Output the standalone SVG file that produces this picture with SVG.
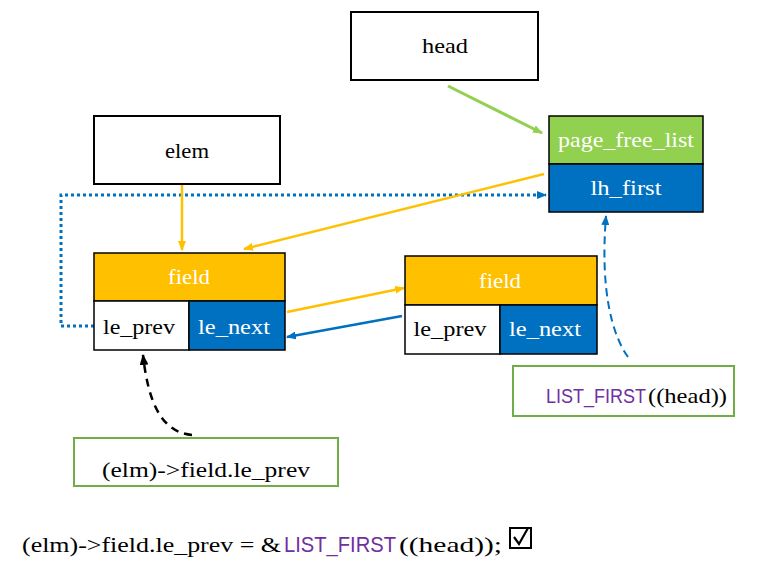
<svg xmlns="http://www.w3.org/2000/svg" width="784" height="573" viewBox="0 0 784 573">
<style>
.t{font-family:"Liberation Serif","DejaVu Serif",serif;font-size:22px;text-anchor:middle;fill:#000}
.w{fill:#fff}
.s{font-family:"Liberation Sans","Open Sans",sans-serif;fill:#7030A0}
.box{fill:#fff;stroke:#000;stroke-width:2}
.cell{stroke:#000;stroke-width:1.5}
.note{fill:#fff;stroke:#70AD47;stroke-width:2}
</style>
<defs>
<marker id="ao" markerWidth="10" markerHeight="8" refX="9" refY="4" orient="auto" markerUnits="userSpaceOnUse"><path d="M0,0 L10,4 L0,8 Z" fill="#FFC000"/></marker>
<marker id="ag" markerWidth="10" markerHeight="8" refX="9" refY="4" orient="auto" markerUnits="userSpaceOnUse"><path d="M0,0 L10,4 L0,8 Z" fill="#92D050"/></marker>
<marker id="ab" markerWidth="10" markerHeight="8" refX="9" refY="4" orient="auto" markerUnits="userSpaceOnUse"><path d="M0,0 L10,4 L0,8 Z" fill="#0070C0"/></marker>
<marker id="ak" markerWidth="11" markerHeight="9" refX="10" refY="4.5" orient="auto" markerUnits="userSpaceOnUse"><path d="M0,0 L11,4.5 L0,9 Z" fill="#000"/></marker>
</defs>

<g id="connectors" fill="none">
<polyline points="94,326 61,326 61,195 546,195" stroke="#0070C0" stroke-width="3" stroke-dasharray="3 3" marker-end="url(#ab)"/>
<line x1="448" y1="86" x2="542" y2="133" stroke="#92D050" stroke-width="3" marker-end="url(#ag)"/>
<line x1="182" y1="184" x2="182" y2="250" stroke="#FFC000" stroke-width="2.5" marker-end="url(#ao)"/>
<line x1="544" y1="174" x2="244" y2="249" stroke="#FFC000" stroke-width="2.5" marker-end="url(#ao)"/>
<line x1="287" y1="312" x2="404" y2="288" stroke="#FFC000" stroke-width="2.5" marker-end="url(#ao)"/>
<line x1="402" y1="316" x2="287" y2="337" stroke="#0070C0" stroke-width="2.5" marker-end="url(#ab)"/>
<path d="M628,357 C612,335 600,290 606,216" stroke="#0070C0" stroke-width="2" stroke-dasharray="8 5" marker-end="url(#ab)"/>
<path d="M192,435 C160,432 148,400 143,355" stroke="#000" stroke-width="2.5" stroke-dasharray="8 6" marker-end="url(#ak)"/>
</g>

<g id="head">
<rect class="box" x="351" y="12" width="187" height="68"/>
<text class="t" x="445" y="53" textLength="46" lengthAdjust="spacingAndGlyphs">head</text>
</g>

<g id="elem">
<rect class="box" x="94" y="116" width="186" height="68"/>
<text class="t" x="187" y="158" textLength="44" lengthAdjust="spacingAndGlyphs">elem</text>
</g>

<g id="page_free_list">
<rect class="cell" x="549" y="116" width="154" height="48" fill="#92D050"/>
<rect class="cell" x="549" y="164" width="154" height="48" fill="#0070C0"/>
<text class="t w" x="626" y="147" textLength="136" lengthAdjust="spacingAndGlyphs">page_free_list</text>
<text class="t w" x="626" y="195" textLength="71" lengthAdjust="spacingAndGlyphs">lh_first</text>
</g>

<g id="field1">
<rect class="cell" x="94" y="253" width="191" height="48" fill="#FFC000"/>
<rect class="cell" x="94" y="301" width="95" height="49" fill="#fff"/>
<rect class="cell" x="189" y="301" width="96" height="49" fill="#0070C0"/>
<text class="t w" x="189" y="284" textLength="42" lengthAdjust="spacingAndGlyphs">field</text>
<text class="t" x="139" y="334" textLength="72" lengthAdjust="spacingAndGlyphs">le_prev</text>
<text class="t w" x="234" y="334" textLength="72" lengthAdjust="spacingAndGlyphs">le_next</text>
</g>

<g id="field2">
<rect class="cell" x="405" y="256" width="192" height="49" fill="#FFC000"/>
<rect class="cell" x="405" y="305" width="95" height="49" fill="#fff"/>
<rect class="cell" x="500" y="305" width="97" height="49" fill="#0070C0"/>
<text class="t w" x="500" y="288" textLength="42" lengthAdjust="spacingAndGlyphs">field</text>
<text class="t" x="450" y="336" textLength="73" lengthAdjust="spacingAndGlyphs">le_prev</text>
<text class="t w" x="545" y="336" textLength="72" lengthAdjust="spacingAndGlyphs">le_next</text>
</g>

<g id="list_first">
<rect class="note" x="513" y="366" width="221" height="50"/>
<text class="t" x="546" y="403" style="text-anchor:start"><tspan class="s" font-size="20" textLength="100" lengthAdjust="spacingAndGlyphs">LIST_FIRST</tspan><tspan dx="2" textLength="79" lengthAdjust="spacingAndGlyphs">((head))</tspan></text>
</g>

<g id="elm_prev">
<rect class="note" x="74" y="438" width="264" height="48"/>
<text class="t" x="206" y="477" textLength="208" lengthAdjust="spacingAndGlyphs">(elm)-&gt;field.le_prev</text>
</g>

<g id="statement">
<text class="t" x="22" y="552" font-size="24" style="text-anchor:start" textLength="259" lengthAdjust="spacingAndGlyphs">(elm)-&gt;field.le_prev = &amp;</text>
<text class="t s" x="284" y="552" font-size="22" style="text-anchor:start" textLength="112" lengthAdjust="spacingAndGlyphs">LIST_FIRST</text>
<text class="t" x="399" y="552" font-size="24" style="text-anchor:start" textLength="103" lengthAdjust="spacingAndGlyphs">((head));</text>
<rect x="510" y="528" width="21" height="20" fill="#fff" stroke="#000" stroke-width="2"/>
<path d="M514,537 L519,544 L528,528" fill="none" stroke="#000" stroke-width="2.2"/>
</g>
</svg>
